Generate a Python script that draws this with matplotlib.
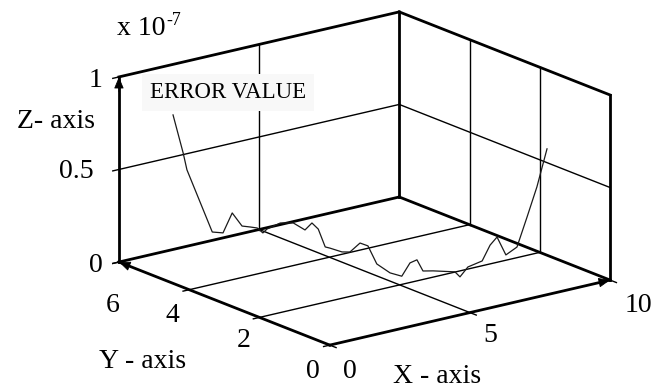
import numpy as np
import matplotlib as mpl
import matplotlib.pyplot as plt

# error curve samples, z in units of 1e-7
err_x = [1.93, 2.09, 2.15, 2.54, 2.71, 2.85, 3.00, 3.13, 3.24, 3.33,
         3.39, 3.60, 3.80, 3.98, 4.09, 4.19, 4.30, 4.37, 4.56, 4.68,
         4.84, 4.96, 5.10, 5.31, 5.49, 5.62, 5.73, 5.82, 5.98, 6.32,
         6.40, 6.52, 6.74, 6.86, 6.97, 7.11, 7.28, 7.44, 7.59, 7.75]
err_y = [6.00, 5.84, 5.78, 5.37, 5.20, 5.05, 4.89, 4.76, 4.65, 4.56,
         4.49, 4.28, 4.07, 3.88, 3.77, 3.67, 3.56, 3.48, 3.29, 3.16,
         3.00, 2.87, 2.73, 2.52, 2.33, 2.20, 2.09, 1.99, 1.83, 1.48,
         1.40, 1.27, 1.04, 0.91, 0.80, 0.66, 0.48, 0.32, 0.16, 0.00]
err_z = [0.727, 0.528, 0.439, 0.120, 0.122, 0.236, 0.172, 0.172, 0.171, 0.148,
         0.172, 0.213, 0.222, 0.192, 0.234, 0.205, 0.113, 0.110, 0.097, 0.102,
         0.157, 0.147, 0.055, 0.015, 0.005, 0.082, 0.103, 0.047, 0.054, 0.063,
         0.039, 0.098, 0.140, 0.231, 0.279, 0.188, 0.238, 0.407, 0.576, 0.788]

x_lim = (0, 10)
y_lim = (0, 6)
z_lim = (0, 1)
x_ticks = [0, 5, 10]
y_ticks = [0, 2, 4, 6]
z_ticks = [0, 0.5, 1]
z_tick_labels = ['0', '0.5', '1']

plt.rcParams['font.family'] = ['Liberation Serif', 'DejaVu Serif']

fig = plt.figure(figsize=(6.55, 3.9), dpi=100)
ax = fig.add_axes([0.1307, -0.1728, 0.8292, 1.3926], projection='3d')
ax.set_proj_type('ortho')
ax.view_init(elev=17.6, azim=-127.5)
ax.set_box_aspect((353, 346, 194), zoom=0.95)
ax.set_xlim(*x_lim)
ax.set_ylim(*y_lim)
ax.set_zlim(*z_lim)
ax.set_axis_off()

x0, x1 = x_lim
y0, y1 = y_lim
z0, z1 = z_lim
tx = 0.22   # tick length along x
ty = 0.18   # tick length along y
THICK = 2.0
THIN = 1.0


def seg(p, q, lw=THIN):
    ax.plot([p[0], q[0]], [p[1], q[1]], [p[2], q[2]], color='k', lw=lw)


# box edges
for p, q in [((x0, y0, z0), (x1, y0, z0)), ((x0, y0, z0), (x0, y1, z0)),
             ((x0, y1, z0), (x1, y1, z0)), ((x1, y1, z0), (x1, y0, z0)),
             ((x0, y1, z0), (x0, y1, z1)), ((x1, y1, z0), (x1, y1, z1)),
             ((x1, y0, z0), (x1, y0, z1)),
             ((x0, y1, z1), (x1, y1, z1)), ((x1, y1, z1), (x1, y0, z1))]:
    seg(p, q, THICK)

# floor grid and ticks
for yt in y_ticks:
    seg((x0 - tx, yt, z0), (x1 if yt not in y_lim else x0, yt, z0))
for xt in x_ticks:
    seg((xt, y0 - ty, z0), (xt, y1 if xt not in x_lim else y0, z0))

# back wall (y = max) and right wall (x = max)
for xt in x_ticks[1:-1]:
    seg((xt, y1, z0), (xt, y1, z1))
for yt in y_ticks[1:-1]:
    seg((x1, yt, z0), (x1, yt, z1))
for zt in z_ticks:
    if zt in z_lim:
        seg((x0 - tx, y1, zt), (x0, y1, zt))
    else:
        seg((x0 - tx, y1, zt), (x1, y1, zt))
        seg((x1, y1, zt), (x1, y0, zt))

# error curve
ax.plot(err_x, err_y, err_z, color='#1a1a1a', lw=0.9)

M = ax.get_proj()


def to2d(x, y, z):
    v = M @ np.array([x, y, z, 1.0])
    return v[0] / v[3], v[1] / v[3]


def arrow_head(p, q):
    ax.annotate('', xy=to2d(*q), xytext=to2d(*p), annotation_clip=False,
                arrowprops=dict(arrowstyle='-|>,head_length=0.6,head_width=0.25',
                                mutation_scale=12, color='k', lw=0.6,
                                shrinkA=0, shrinkB=0))


arrow_head((x1 - 0.5, y0, z0), (x1, y0, z0))
arrow_head((x0, y1 - 0.4, z0), (x0, y1, z0))
arrow_head((x0, y1, z1 - 0.08), (x0, y1, z1))


def label(pt, s, dx, dy, ha='center', size=20, **kw):
    ax.annotate(s, xy=to2d(*pt), xytext=(dx, dy), textcoords='offset pixels',
                ha=ha, va='baseline', fontsize=size, annotation_clip=False, **kw)


# z axis labels
z_offsets = [(-16, -10), (-25, -8.5), (-16, -10)]
for zt, s, (dx, dy) in zip(z_ticks, z_tick_labels, z_offsets):
    label((x0, y1, zt), s, dx, dy, ha='right')
label((x0, y1, z1), 'Z- axis', -63, -51)
label((x0, y1, z1), 'x 10', -2, 42, ha='left')
label((x0, y1, z1), '-7', 47, 52, ha='left', size=13)

# y axis labels
y_offsets = {0: (-17, -32.5), 2: (-16, -30), 4: (-17, -32), 6: (-6, -50)}
for yt in y_ticks:
    dx, dy = y_offsets[yt]
    label((x0, yt, z0), str(yt), dx, dy)
label((x0, 3, z0), 'Y - axis', -82, -64.5)

# x axis labels
x_offsets = {0: (20, -33), 5: (20, -29.5), 10: (28, -32)}
for xt in x_ticks:
    dx, dy = x_offsets[xt]
    label((xt, y0, z0), str(xt), dx, dy)
label((5, y0, z0), 'X - axis', -33, -70.5)

label((err_x[0], err_y[0], err_z[0]), 'ERROR VALUE', 55, 17, size=16.5,
      bbox=dict(boxstyle='square,pad=0.35', fc='#f8f8f8', ec='none'))

fig.savefig('out.png', dpi=100)
